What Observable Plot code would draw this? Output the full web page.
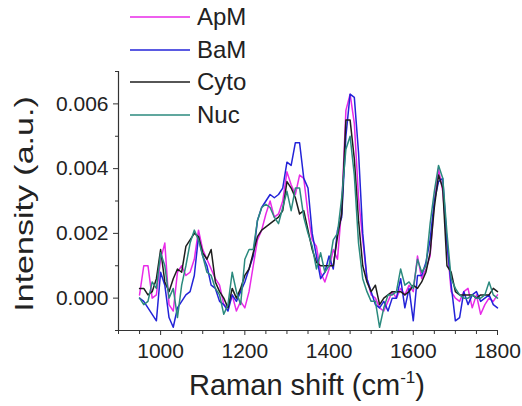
<!DOCTYPE html>
<html><head><meta charset="utf-8">
<script src="https://cdn.jsdelivr.net/npm/d3@7"></script>
<script src="https://cdn.jsdelivr.net/npm/@observablehq/plot@0.6"></script>
<style>
body{margin:0;background:#fff;font-family:"Liberation Sans",Arial,sans-serif;color:#222;}
#wrap{position:relative;width:522px;height:406px;overflow:hidden;}
#legend{position:absolute;left:130px;top:0;}
.lg{position:absolute;left:0;width:140px;height:30px;}
.lg svg{position:absolute;left:0;top:13px;}
.lg .tx{position:absolute;left:67px;top:0;font-size:24px;line-height:30px;white-space:nowrap;}
#xtitle{position:absolute;left:307px;top:368px;transform:translateX(-50%);font-size:29px;line-height:34px;white-space:nowrap;}
#xtitle sup{font-size:17px;vertical-align:0;position:relative;top:-12px;}
#ytitle{position:absolute;left:24px;top:204px;transform:translate(-50%,-50%) rotate(-90deg) scale(1,0.75);font-size:34px;line-height:34px;white-space:nowrap;}
</style></head><body><div id="wrap"></div><script>
// Raman shift (cm^-1)
const wavenumber = [950,960,970,980,990,1000,1010,1020,1030,1040,1050,1060,1070,1080,1090,1100,1110,1120,1130,1140,1150,1160,1170,1180,1190,1200,1210,1220,1230,1240,1250,1260,1270,1280,1290,1300,1310,1320,1330,1340,1350,1360,1370,1380,1390,1400,1410,1420,1430,1440,1450,1460,1470,1480,1490,1500,1510,1520,1530,1540,1550,1560,1570,1580,1590,1600,1610,1620,1630,1640,1650,1660,1670,1680,1690,1700,1710,1720,1730,1740,1750,1760,1770,1780,1790,1800];
// intensities in units of 1e-4 a.u.
const ApM  = [1,10,10,0,1,12,17,-2,-4,8,10,7,8,12,21,15,12,9,6,4,-2,-3,1,-4,-1,-3,2,10,18,21,26,30,25,26,30,39,35,32,38,37,26,18,16,8,5,9,15,12,28,58,63,54,31,18,6,1,0,-3,-4,-1,2,0,3,1,4,2,13,6,9,13,30,40,33,17,2,0,-1,2,3,-3,1,-5,-2,0,-1,1];
const BaM  = [0,-1,-3,-5,-7,8,4,-6,-9,-3,-1,1,2,7,19,13,10,4,3,-1,-2,-4,1,-1,2,5,9,13,24,28,30,32,31,32,34,42,41,48,48,37,34,20,13,6,8,13,9,21,25,50,63,62,45,20,6,2,-2,-3,-1,-4,0,0,6,-3,3,-7,7,7,11,18,30,36,37,17,4,-7,-6,2,-2,1,2,-1,0,1,-2,-3];
const Cyto = [3,3,1,2,6,15,5,2,6,9,8,16,18,20,19,14,12,15,5,2,0,-3,3,0,3,7,9,14,19,21,22,23,24,25,27,36,34,31,26,27,21,15,11,10,10,10,10,19,26,55,55,43,24,10,5,2,4,-2,0,1,2,2,2,1,2,4,3,5,8,14,28,38,34,10,8,2,1,1,1,1,0,1,1,1,3,2];
const Nuc  = [0,-2,-1,5,3,14,10,0,3,-6,4,10,17,21,18,13,8,7,3,1,-5,-2,8,2,-2,12,15,15,24,28,29,28,25,23,28,33,27,34,34,25,20,16,9,14,8,10,18,20,31,46,50,38,17,6,2,-1,-1,-9,-3,1,1,2,9,4,5,3,12,8,10,23,33,41,37,20,6,3,1,0,0,1,0,0,1,5,1,0];
const seriesNames = ["ApM","BaM","Cyto","Nuc"];
const seriesColors = ["#e82ae8","#2323d8","#1e1e1e","#2b8a7e"];
const xMajorTicks = [1000,1200,1400,1600,1800];
const xMinorTicks = [900,950,1050,1100,1150,1250,1300,1350,1450,1500,1550,1650,1700,1750];
const yMajorTicks = [0,0.002,0.004,0.006];
const yMinorTicks = [-0.001,0.001,0.003,0.005,0.007];
const xDomain = [900,1800];
const yDomain = [-0.001,0.007];

const seriesValues = [ApM,BaM,Cyto,Nuc];
const data = [];
seriesNames.forEach((name,i)=>{
  seriesValues[i].forEach((v,j)=>data.push({series:name, w:wavenumber[j], v:v*1e-4}));
});

const axisColor = "#333";
const chart = Plot.plot({
  width:522, height:406,
  marginLeft:118, marginRight:25, marginTop:71, marginBottom:76,
  style:{fontFamily:'"Liberation Sans",Arial,sans-serif', fontSize:"21px", color:"#222", background:"white", overflow:"visible"},
  x:{domain:xDomain, label:null},
  y:{domain:yDomain, label:null},
  color:{domain:seriesNames, range:seriesColors},
  marks:[
    Plot.line(data,{x:"w", y:"v", z:"series", stroke:"series", strokeWidth:1.5, strokeLinejoin:"round"}),
    Plot.ruleX([xDomain[0]],{stroke:axisColor, strokeWidth:1.2}),
    Plot.ruleY([yDomain[0]],{stroke:axisColor, strokeWidth:1.2}),
    Plot.axisX(xMinorTicks,{tickSize:4, tickFormat:()=>"", label:null, stroke:axisColor}),
    Plot.axisX(xMajorTicks,{tickSize:5, tickPadding:8, label:null, stroke:axisColor, tickFormat:d=>String(d)}),
    Plot.axisY(yMinorTicks,{tickSize:3, tickFormat:()=>"", label:null, stroke:axisColor}),
    Plot.axisY(yMajorTicks,{tickSize:5, tickPadding:5, label:null, stroke:axisColor, tickFormat:d3.format(".3f")})
  ]
});

const wrap = document.getElementById("wrap");
wrap.appendChild(chart);

const legend = document.createElement("div");
legend.id = "legend";
const rowY = [2,35,67,100];
seriesNames.forEach((name,i)=>{
  const row = document.createElement("div");
  row.className = "lg";
  row.style.top = rowY[i] + "px";
  row.innerHTML = `<svg width="60" height="4"><line x1="0" x2="60" y1="2" y2="2" stroke="${seriesColors[i]}" stroke-width="1.5"/></svg>`;
  const tx = document.createElement("div");
  tx.className = "tx"; tx.textContent = name;
  row.appendChild(tx);
  legend.appendChild(row);
});
wrap.appendChild(legend);

const xt = document.createElement("div");
xt.id = "xtitle";
xt.innerHTML = "Raman shift (cm<sup>-1</sup>)";
wrap.appendChild(xt);

const yt = document.createElement("div");
yt.id = "ytitle";
yt.textContent = "Intensity (a.u.)";
wrap.appendChild(yt);
</script></body></html>
